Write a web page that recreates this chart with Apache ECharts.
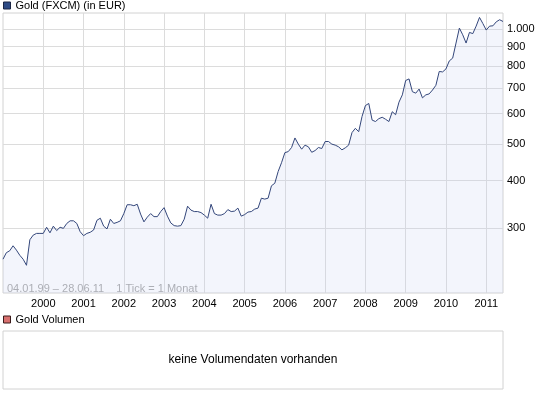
<!DOCTYPE html>
<html>
<head>
<meta charset="utf-8">
<title>Gold (FXCM) (in EUR)</title>
<script src="https://cdn.jsdelivr.net/npm/echarts@6/dist/echarts.min.js"></script>
<style>
  html, body { margin: 0; padding: 0; background: #fff; }
  #chart { width: 545px; height: 398px; }
</style>
</head>
<body>
<div id="chart"></div>
<script>
// Goldpreis in EUR, ein Wert pro Monat (01/1999 - 06/2011)
const gold1999 = [249, 259, 262, 270, 263, 255, 249, 240, 280, 288, 291, 291];
const gold2000 = [291, 302, 292, 304, 296, 302, 300, 309, 314, 314, 309, 294];
const gold2001 = [287, 291, 293, 297, 315, 319, 304, 299, 317, 309, 311, 314];
const gold2002 = [328, 346, 346, 344, 347, 327, 312, 321, 328, 322, 322, 332];
const gold2003 = [340, 323, 310, 305, 304, 305, 317, 343, 335, 332, 332, 330];
const gold2004 = [325, 319, 347, 328, 325, 325, 328, 336, 332, 333, 339, 323];
const gold2005 = [326, 331, 332, 337, 339, 360, 358, 360, 388, 394, 423, 446];
const gold2006 = [474, 477, 489, 518, 499, 484, 496, 491, 475, 480, 489, 486];
const gold2007 = [507, 507, 499, 496, 491, 482, 488, 496, 535, 549, 538, 590];
const gold2008 = [630, 638, 577, 572, 582, 587, 580, 572, 607, 596, 643, 672];
const gold2009 = [733, 740, 685, 679, 696, 660, 672, 676, 692, 712, 774, 772];
const gold2010 = [786, 825, 839, 919, 1006, 966, 919, 980, 973, 1018, 1073, 1034];
const gold2011 = [994, 1018, 1020, 1045, 1058, 1047];

const prices = [].concat(gold1999, gold2000, gold2001, gold2002, gold2003, gold2004,
  gold2005, gold2006, gold2007, gold2008, gold2009, gold2010, gold2011);

// rechte Achse (log)
const yTicks = [300, 400, 500, 600, 700, 800, 900, 1000];

// Monate als Kategorien, z.B. '1999-01'
const months = [];
for (let i = 0; i < prices.length; i++) {
  const y = 1999 + Math.floor(i / 12);
  const m = (i % 12) + 1;
  months.push(y + '-' + (m < 10 ? '0' + m : m));
}

const font = '"Liberation Sans", Arial, sans-serif';
const gridColor = '#dcdcdc';
const yearStart = (idx) => idx > 0 && idx % 12 === 0;

const chart = echarts.init(document.getElementById('chart'));
chart.setOption({
  animation: false,
  textStyle: { fontFamily: font },
  legend: [
    {
      data: ['Gold (FXCM) (in EUR)'],
      left: 3, top: 0, padding: 0,
      icon: 'rect', itemWidth: 7, itemHeight: 7,
      selectedMode: false,
      itemStyle: { borderColor: '#1a2544', borderWidth: 1 },
      textStyle: { fontSize: 11, color: '#000', fontFamily: font }
    },
    {
      data: ['Gold Volumen'],
      left: 3, top: 314, padding: 0,
      icon: 'rect', itemWidth: 7, itemHeight: 7,
      selectedMode: false,
      itemStyle: { borderColor: '#3a1a1a', borderWidth: 1 },
      textStyle: { fontSize: 11, color: '#000', fontFamily: font }
    }
  ],
  grid: [
    { left: 3, top: 13, width: 500, height: 280, show: true, borderColor: '#d2d2d2', borderWidth: 1 },
    { left: 3, top: 331, width: 500, height: 58, show: true, borderColor: '#d2d2d2', borderWidth: 1 }
  ],
  xAxis: [
    {
      type: 'category',
      gridIndex: 0,
      data: months,
      boundaryGap: false,
      axisLine: { show: false },
      axisTick: { show: false },
      axisLabel: {
        interval: yearStart,
        formatter: (v) => v.slice(0, 4),
        fontSize: 11,
        color: '#000',
        margin: 5
      },
      splitLine: { show: true, interval: yearStart, lineStyle: { color: gridColor, width: 1 } }
    },
    { type: 'category', gridIndex: 1, data: [], show: false }
  ],
  yAxis: [
    {
      type: 'log',
      logBase: 10,
      gridIndex: 0,
      position: 'right',
      min: 203,
      max: 1102,
      axisLine: { show: false },
      axisTick: { show: false },
      axisLabel: { show: false },
      splitLine: { show: false }
    },
    { type: 'value', gridIndex: 1, show: false }
  ],
  series: [
    {
      name: 'Gold (FXCM) (in EUR)',
      type: 'line',
      xAxisIndex: 0,
      yAxisIndex: 0,
      data: prices,
      symbol: 'none',
      showSymbol: false,
      itemStyle: { color: '#2d4a85' },
      lineStyle: { color: '#33467a', width: 1 },
      areaStyle: { color: 'rgba(200,210,240,0.3)', origin: 'start' },
      markLine: {
        silent: true,
        symbol: 'none',
        z: 1,
        lineStyle: { color: gridColor, type: 'solid', width: 1 },
        label: {
          position: 'end',
          distance: 4,
          fontSize: 11,
          color: '#000',
          fontFamily: font,
          formatter: (p) => (p.value === 1000 ? '1.000' : String(p.value))
        },
        emphasis: { disabled: true },
        data: yTicks.map((v) => ({ yAxis: v }))
      }
    },
    {
      name: 'Gold Volumen',
      type: 'line',
      xAxisIndex: 1,
      yAxisIndex: 1,
      data: [],
      itemStyle: { color: '#d8706f' }
    }
  ],
  graphic: [
    {
      type: 'text',
      left: 7,
      top: 283,
      style: {
        text: '04.01.99 \u2013 28.06.11    1 Tick = 1 Monat',
        fill: '#a6a6a6',
        font: '11px ' + font
      }
    },
    {
      type: 'text',
      x: 253,
      y: 360,
      style: {
        text: 'keine Volumendaten vorhanden',
        fill: '#000',
        font: '12px ' + font,
        align: 'center',
        verticalAlign: 'middle'
      }
    }
  ]
});
</script>
</body>
</html>
